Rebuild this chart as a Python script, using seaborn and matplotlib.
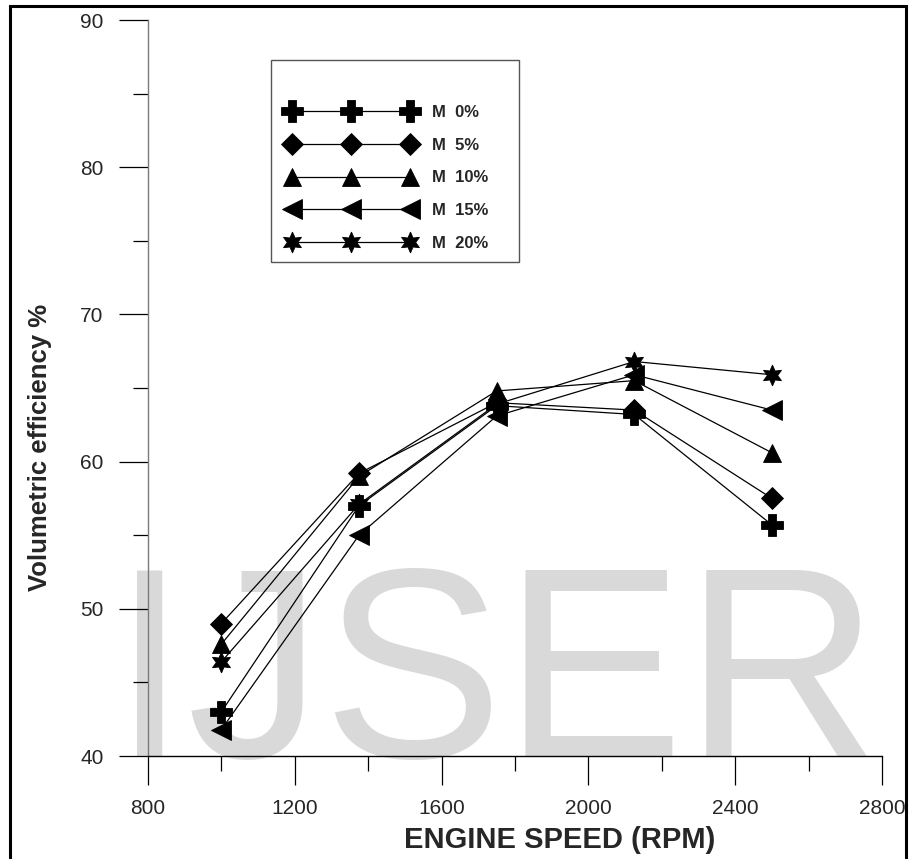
import matplotlib
matplotlib.use("Agg")
import matplotlib.pyplot as plt
import seaborn as sns
import pandas as pd
from matplotlib.patches import Rectangle
from matplotlib.ticker import FixedLocator
from matplotlib import font_manager as fm

# ---- data ----
rpm = [1000, 1375, 1750, 2125, 2500]
m0 = [43.0, 57.0, 63.8, 63.2, 55.7]
m5 = [49.0, 59.2, 64.0, 63.5, 57.5]
m10 = [47.6, 59.0, 64.8, 65.5, 60.6]
m15 = [41.8, 55.0, 63.1, 65.9, 63.5]
m20 = [46.4, 57.1, 63.9, 66.8, 65.9]
labels = ["M  0%", "M  5%", "M  10%", "M  15%", "M  20%"]
series = [m0, m5, m10, m15, m20]
markers = ["P", "D", "^", "<", (6, 1, 0)]
msizes = [16, 11.5, 13.5, 15, 15]

x_ticks = [800, 1200, 1600, 2000, 2400, 2800]
y_ticks = [40, 50, 60, 70, 80, 90]

sns.set_style("ticks")
names = {f.name for f in fm.fontManager.ttflist}
base_font = "Liberation Sans" if "Liberation Sans" in names else "DejaVu Sans"
wm_font, wm_size = base_font, 195
for cand, size in [("Liberation Sans Narrow", 236), ("DejaVu Sans Condensed", 226)]:
    if cand in names:
        wm_font, wm_size = cand, size
        break
plt.rcParams["font.family"] = [base_font, "DejaVu Sans"]

W, H = 909, 859
fig = plt.figure(figsize=(W / 100, H / 100), dpi=100)
ax = fig.add_axes([148 / W, 1 - 756 / H, (882 - 148) / W, (756 - 20) / H])
ax.set_facecolor("none")

rows = []
for lab, vals in zip(labels, series):
    for x, y in zip(rpm, vals):
        rows.append({"rpm": x, "ve": y, "blend": lab})
df = pd.DataFrame(rows)

for lab, mk, ms in zip(labels, markers, msizes):
    sub = df[df["blend"] == lab]
    sns.lineplot(data=sub, x="rpm", y="ve", ax=ax, color="black", linewidth=0.9,
                 marker=mk, markersize=ms, markeredgewidth=0.6,
                 markeredgecolor="black", markerfacecolor="black",
                 label=lab, sort=False, estimator=None)

ax.set_xlim(800, 2800)
ax.set_ylim(40, 90)
ax.xaxis.set_major_locator(FixedLocator(x_ticks))
ax.xaxis.set_minor_locator(FixedLocator([1000, 1400, 1800, 2200, 2600]))
ax.yaxis.set_major_locator(FixedLocator(y_ticks))
ax.yaxis.set_minor_locator(FixedLocator([45, 55, 65, 75, 85]))
ax.set_xlabel("")
ax.set_ylabel("")

for s in ["top", "right"]:
    ax.spines[s].set_visible(False)
ax.spines["left"].set_color("#7a7a7a")
ax.spines["left"].set_linewidth(1.0)
ax.spines["bottom"].set_color("black")
ax.spines["bottom"].set_linewidth(1.0)

ax.tick_params(axis="x", which="major", direction="out", length=21, width=0.9,
               color="black", pad=10, labelsize=15)
ax.tick_params(axis="x", which="minor", direction="out", length=11, width=0.9, color="black")
ax.tick_params(axis="y", which="major", direction="out", length=21, width=0.9,
               color="black", pad=11, labelsize=15)
ax.tick_params(axis="y", which="minor", direction="out", length=11, width=0.9, color="black")

# axis titles
fig.text(560 / W, 1 - 840 / H, "ENGINE SPEED (RPM)", ha="center", va="center",
         fontsize=21, fontweight="bold")
fig.text(40 / W, 1 - 447 / H, "Volumetric efficiency %", ha="center", va="center",
         rotation=90, fontsize=18.5, fontweight="bold")

# legend
leg = ax.legend(loc="upper left", bbox_to_anchor=(287 / W, 1 - 105 / H),
                bbox_transform=fig.transFigure, frameon=False, numpoints=3,
                handlelength=7.7, handletextpad=1.0, labelspacing=1.06,
                borderpad=0, borderaxespad=0,
                prop={"size": 12, "weight": "bold", "family": base_font})
fig.patches.append(Rectangle((271 / W, 1 - 262 / H), (519 - 271) / W, (262 - 60) / H,
                             transform=fig.transFigure, fill=False,
                             edgecolor="#555555", linewidth=1.0, zorder=5))

# watermark
fig.text(112 / W, 1 - 757 / H, "IJSER", ha="left", va="baseline",
         fontsize=wm_size, color="#d9d9d9", family=wm_font, zorder=-1)

# outer border
fig.patches.append(Rectangle((10 / W, -0.02), (906 - 10) / W, 1 - 6 / H + 0.02,
                             transform=fig.transFigure, fill=False,
                             edgecolor="black", linewidth=2.2, zorder=10))

fig.savefig("out.png", dpi=100)
